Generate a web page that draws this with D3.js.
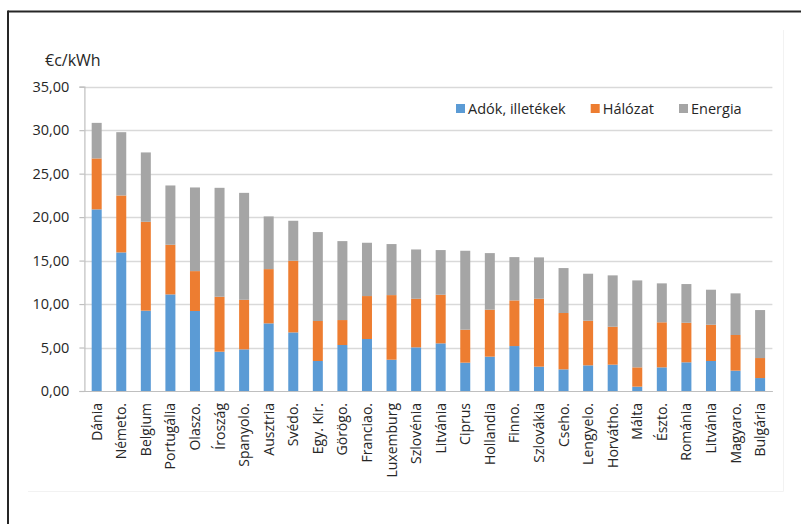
<!DOCTYPE html>
<html>
<head>
<meta charset="utf-8">
<script src="https://cdn.jsdelivr.net/npm/d3@7/dist/d3.min.js"></script>
<style>
  html, body { margin: 0; padding: 0; background: #fff; }
  svg { display: block; font-family: "Open Sans", sans-serif; }
</style>
</head>
<body>
<svg id="chart" width="801" height="524"></svg>
<script>
// Electricity price components by country (€c/kWh)
const countries = ["Dánia", "Németo.", "Belgium", "Portugália", "Olaszo.", "Íroszág", "Spanyolo.",
  "Ausztria", "Svédo.", "Egy. Kir.", "Görögo.", "Franciao.", "Luxemburg", "Szlovénia", "Litvánia",
  "Ciprus", "Hollandia", "Finno.", "Szlovákia", "Cseho.", "Lengyelo.", "Horvátho.", "Málta",
  "Észto.", "Románia", "Litvánia", "Magyaro.", "Bulgária"];

// Taxes and levies
const taxes = [20.89, 15.94, 9.24, 11.11, 9.20, 4.52, 4.79, 7.78, 6.74, 3.45, 5.29, 5.98, 3.60, 5.02,
  5.48, 3.26, 3.95, 5.17, 2.80, 2.49, 2.95, 3.03, 0.50, 2.72, 3.30, 3.45, 2.34, 1.49];
// Network charges
const network = [5.86, 6.55, 10.22, 5.71, 4.59, 6.32, 5.70, 6.24, 8.24, 4.60, 2.87, 4.94, 7.43, 5.59,
  5.59, 3.79, 5.40, 5.25, 7.81, 6.48, 5.13, 4.36, 2.22, 5.18, 4.55, 4.17, 4.10, 2.30];
// Energy and supply
const energy = [4.09, 7.28, 7.98, 6.82, 9.62, 12.53, 12.30, 6.06, 4.60, 10.23, 9.08, 6.13, 5.87, 5.67,
  5.14, 9.08, 6.51, 4.98, 4.76, 5.17, 5.41, 5.91, 10.00, 4.48, 4.45, 4.03, 4.79, 5.52];

const seriesNames = ["Adók, illetékek", "Hálózat", "Energia"];
const seriesColors = ["#5B9BD5", "#ED7D31", "#A5A5A5"];
const yTicks = [0, 5, 10, 15, 20, 25, 30, 35];
const yUnit = "€c/kWh";

const rows = countries.map((c, i) => ({ idx: i, name: c, tax: taxes[i], net: network[i], en: energy[i] }));
const keys = ["tax", "net", "en"];

const svg = d3.select("#chart");
const margin = { left: 84.4, right: 772.4, top: 86.7, bottom: 391 };

// outer frame (top and left edges)
svg.append("line").attr("x1", 8).attr("x2", 801).attr("y1", 11.5).attr("y2", 11.5)
  .attr("stroke", "#262626").attr("stroke-width", 2);
svg.append("line").attr("x1", 8).attr("x2", 8).attr("y1", 10.5).attr("y2", 524)
  .attr("stroke", "#262626").attr("stroke-width", 2);
// faint inner area edge
svg.append("path").attr("d", "M28,491.5H783.5V30")
  .attr("fill", "none").attr("stroke", "#f2f2f2").attr("stroke-width", 1);

const x = d3.scaleBand().domain(d3.range(countries.length))
  .range([margin.left, margin.right]).paddingInner(0.593).paddingOuter(0.2965);
const y = d3.scaleLinear().domain([0, 35]).range([margin.bottom, margin.top]);

// gridlines
svg.append("g").selectAll("line").data(yTicks.slice(1)).join("line")
  .attr("x1", margin.left).attr("x2", margin.right)
  .attr("y1", d => Math.round(y(d)) + 0.5).attr("y2", d => Math.round(y(d)) + 0.5)
  .attr("stroke", "#d9d9d9").attr("stroke-width", 1.5);

// stacked bars
const stack = d3.stack().keys(keys)(rows);
svg.append("g").selectAll("g").data(stack).join("g")
  .attr("fill", (d, i) => seriesColors[i])
  .selectAll("rect").data(d => d).join("rect")
  .attr("x", d => x(d.data.idx))
  .attr("width", x.bandwidth())
  .attr("y", d => y(d[1]))
  .attr("height", d => y(d[0]) - y(d[1]));

// y axis
const yAxis = d3.axisLeft(y).tickValues(yTicks).tickSize(5).tickPadding(10)
  .tickFormat(d => d3.format(".2f")(d).replace(".", ","));
const gy = svg.append("g").attr("transform", `translate(${margin.left},0)`).call(yAxis);
gy.select(".domain").attr("stroke", "#bfbfbf").attr("stroke-width", 1.2);
gy.selectAll(".tick line").attr("stroke", "#bfbfbf").attr("stroke-width", 1.2);
gy.selectAll(".tick text").attr("font-size", 14.5).attr("fill", "#262626")
  .attr("font-family", "'Open Sans', sans-serif");

// x axis
const xAxis = d3.axisBottom(x).tickSize(0).tickPadding(0).tickFormat(i => countries[i]);
const gx = svg.append("g").attr("transform", `translate(0,${margin.bottom})`).call(xAxis);
gx.select(".domain").attr("stroke", "#bfbfbf").attr("stroke-width", 1.2);
gx.selectAll(".tick text")
  .attr("font-size", 14).attr("fill", "#262626").attr("font-family", "'Open Sans', sans-serif")
  .attr("text-anchor", "end").attr("dy", null)
  .attr("transform", "translate(5,12) rotate(-90)");

// unit label
svg.append("text").attr("x", 45).attr("y", 66).attr("font-size", 16).attr("fill", "#262626")
  .text(yUnit);

// legend
const legendPos = [456, 590.7, 679];
const lg = svg.append("g").selectAll("g").data(seriesNames).join("g")
  .attr("transform", (d, i) => `translate(${legendPos[i]},104)`);
lg.append("rect").attr("width", 9).attr("height", 9).attr("fill", (d, i) => seriesColors[i]);
lg.append("text").attr("x", 12).attr("y", 9.5).attr("font-size", 14.5).attr("fill", "#262626").text(d => d);
</script>
</body>
</html>
